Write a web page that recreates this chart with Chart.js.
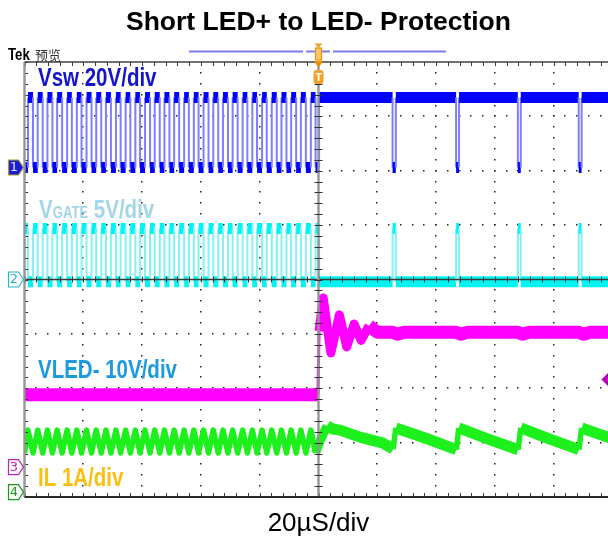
<!DOCTYPE html>
<html lang="en">
<head>
<meta charset="utf-8">
<title>Short LED+ to LED- Protection</title>
<script src="https://cdn.jsdelivr.net/npm/chart.js@4.4.1/dist/chart.umd.min.js"></script>
<style>
html,body{margin:0;padding:0;background:#fff;width:608px;height:539px;overflow:hidden}
#wrap{position:absolute;left:0;top:0;width:614px;height:539px}
</style>
</head>
<body>
<div id="wrap"><canvas id="scope"></canvas></div>
<script>
// ---------------- data (time in µs, 20 µs/div, trigger at t = 0) ----------------
const timeRange = [-100, 100];

// switch-node edges (µs)
const vswRise = [-98.8, -95.5, -92.2, -88.9, -85.5, -82.2, -78.9, -75.6, -72.3, -68.9,
                 -65.6, -62.3, -59.0, -55.7, -52.4, -49.1, -45.7, -42.4, -39.1, -35.8,
                 -32.5, -29.2, -25.8, -22.5, -19.2, -15.9, -12.6, -9.3, -6.0, -2.6];
const vswFall = [-97.1, -93.8, -90.5, -87.2, -83.9, -80.6, -77.2, -73.9, -70.6, -67.3,
                 -64.0, -60.7, -57.3, -54.0, -50.7, -47.4, -44.1, -40.8, -37.4, -34.1,
                 -30.8, -27.5, -24.2, -20.9, -17.6, -14.2, -10.9, -7.6, -4.3, -1.0];
const vswFinalRise = [0.2];
// short switching pulses after the fault (µs)
const dipStart = [25.2, 46.8, 67.8, 88.5];
const dipEnd   = [26.3, 47.8, 68.8, 89.5];

const vswLevels  = [0, 25.7];    // V: low, high
const gateLevels = [-0.2, 4.7];  // V: low, high
const ilRipple   = [0.72, 1.14]; // A: valley, peak before the fault

// inductor current after the fault
const ilPostT = [0.6, 2.9, 4.8, 7.3, 14.1, 22.0, 25.4, 26.3, 36.5, 46.9, 47.7, 57.5, 67.9, 68.8, 78.5, 88.6, 89.5, 100];
const ilPostA = [0.95, 1.22, 1.16, 1.14, 1.01, 0.90, 0.79, 1.18, 0.99, 0.78, 1.18, 0.98, 0.78, 1.18, 0.98, 0.78, 1.18, 0.98];

// LED- voltage
const vledT = [-100, -0.2, 0.2, 1.6, 4.2, 7.1, 9.6, 12.1, 14.5, 17.2, 20.0, 25.2, 26.8, 29.2,
               46.8, 48.4, 50.8, 67.8, 69.4, 71.8, 88.5, 90.1, 92.5, 100];
const vledV = [13.3, 13.3, 25.0, 31.1, 21.0, 28.0, 22.1, 26.3, 23.3, 26.0, 24.8, 24.8, 24.45, 24.8,
               24.8, 24.45, 24.8, 24.8, 24.45, 24.8, 24.8, 24.45, 24.8, 24.8];

// ---------------- channel display settings (scale, ground position in divisions) ----------------
const channels = {
  vsw:  {perDiv: 20, ground: 6.06},
  gate: {perDiv: 5,  ground: 4.0},
  vled: {perDiv: 10, ground: 0.55},
  il:   {perDiv: 1,  ground: 0.09}
};
const toDiv = (v, ch) => v / ch.perDiv + ch.ground;

function squarePoints(events, startLevel, ch) {
  const ev = events.slice().sort((a, b) => a.t - b.t);
  const pts = [{x: timeRange[0], y: toDiv(startLevel, ch)}];
  let cur = startLevel;
  ev.forEach(e => {
    pts.push({x: e.t, y: toDiv(cur, ch)});
    pts.push({x: e.t, y: toDiv(e.l, ch)});
    cur = e.l;
  });
  pts.push({x: timeRange[1], y: toDiv(cur, ch)});
  return pts;
}

const [vLo, vHi] = vswLevels;
const vswPts = squarePoints([
  ...vswRise.map(t => ({t, l: vHi})),
  ...vswFall.map(t => ({t, l: vLo})),
  ...vswFinalRise.map(t => ({t, l: vHi})),
  ...dipStart.map(t => ({t, l: vLo})),
  ...dipEnd.map(t => ({t, l: vHi}))
], vLo, channels.vsw);

const [gLo, gHi] = gateLevels;
const gatePts = squarePoints([
  ...vswRise.map(t => ({t, l: gLo})),
  ...vswFall.map(t => ({t, l: gHi})),
  ...vswFinalRise.map(t => ({t, l: gLo})),
  ...dipStart.map(t => ({t, l: gHi})),
  ...dipEnd.map(t => ({t, l: gLo}))
], gHi, channels.gate);

const ilPts = [{x: timeRange[0], y: toDiv(ilRipple[0], channels.il)}];
vswRise.forEach((t, i) => {
  ilPts.push({x: t, y: toDiv(ilRipple[1], channels.il)});
  ilPts.push({x: vswFall[i], y: toDiv(ilRipple[0], channels.il)});
});
ilPostT.forEach((t, i) => ilPts.push({x: t, y: toDiv(ilPostA[i], channels.il)}));

const vledPts = vledT.map((t, i) => ({x: t, y: toDiv(vledV[i], channels.vled)}));

// ---------------- styles ----------------
const FONT = '"Liberation Sans", Arial, Helvetica, sans-serif';
const isVert = c => Math.abs(c.p1.x - c.p0.x) < 0.01;
const slope = c => { const dx = Math.abs(c.p1.x - c.p0.x); return dx < 0.01 ? 1e9 : Math.abs(c.p1.y - c.p0.y) / dx; };
const bySlope = steps => c => { const s = slope(c); for (const [lim, w] of steps) if (s < lim) return w; return steps[steps.length - 1][1]; };
const clipSides = {left: 0, right: 0, top: 20, bottom: 20};

const base = {pointRadius: 0, pointHoverRadius: 0, tension: 0, fill: false, clip: clipSides, spanGaps: false};

// ---------------- graticule & annotations ----------------
const graticule = {
  id: 'graticule',
  beforeDatasetsDraw(chart) {
    const {ctx, scales: {x, y}} = chart;
    ctx.save();
    ctx.fillStyle = '#222';
    for (let i = 1; i < 10; i++) {
      if (i === 5) continue;
      const X = Math.round(x.getPixelForValue(timeRange[0] + i * 20));
      for (let j = 1; j < 40; j++) {
        const Y = Math.round(y.getPixelForValue(j * 0.2));
        ctx.fillRect(X - 1, Y - 1, 1.5, 1.5);
      }
    }
    for (let j = 1; j < 8; j++) {
      if (j === 4) continue;
      const Y = Math.round(y.getPixelForValue(j));
      for (let i = 1; i < 50; i++) {
        const X = Math.round(x.getPixelForValue(timeRange[0] + i * 4));
        ctx.fillRect(X - 1, Y - 1, 1.5, 1.5);
      }
    }
    ctx.restore();
  },
  afterDatasetsDraw(chart) {
    const {ctx, chartArea: a, scales: {x, y}} = chart;
    const X0 = x.getPixelForValue(0);
    const Yc = y.getPixelForValue(4);
    ctx.save();
    // center horizontal axis
    ctx.strokeStyle = '#3a3a3a'; ctx.lineWidth = 1.6;
    ctx.beginPath(); ctx.moveTo(a.left, Yc); ctx.lineTo(a.right, Yc); ctx.stroke();
    ctx.lineWidth = 1;
    for (let i = 0; i <= 50; i++) {
      const X = Math.round(x.getPixelForValue(timeRange[0] + i * 4)) + 0.5;
      ctx.beginPath(); ctx.moveTo(X, Yc - 3); ctx.lineTo(X, Yc + 3); ctx.stroke();
      ctx.beginPath(); ctx.moveTo(X, a.top); ctx.lineTo(X, a.top + 4); ctx.stroke();
      ctx.beginPath(); ctx.moveTo(X, a.bottom); ctx.lineTo(X, a.bottom - 4); ctx.stroke();
    }
    // trigger line and left border
    ctx.strokeStyle = '#959595'; ctx.lineWidth = 2.4;
    ctx.beginPath(); ctx.moveTo(X0, a.top); ctx.lineTo(X0, a.bottom); ctx.stroke();
    ctx.beginPath(); ctx.moveTo(a.left, a.top); ctx.lineTo(a.left, a.bottom); ctx.stroke();
    ctx.strokeStyle = '#333'; ctx.lineWidth = 1;
    for (let j = 0; j <= 40; j++) {
      const Y = Math.round(y.getPixelForValue(j * 0.2)) + 0.5;
      ctx.beginPath(); ctx.moveTo(X0 - 4, Y); ctx.lineTo(X0 + 4, Y); ctx.stroke();
      ctx.beginPath(); ctx.moveTo(a.left + 1, Y); ctx.lineTo(a.left + 3.5, Y); ctx.stroke();
    }
    // top ruler and bottom border
    ctx.strokeStyle = '#404040'; ctx.lineWidth = 1.5;
    ctx.beginPath(); ctx.moveTo(a.left, a.top); ctx.lineTo(a.right, a.top); ctx.stroke();
    ctx.strokeStyle = '#2a2a2a'; ctx.lineWidth = 2;
    ctx.beginPath(); ctx.moveTo(a.left, a.bottom); ctx.lineTo(a.right, a.bottom); ctx.stroke();

    // record-length bar above the graticule
    ctx.strokeStyle = '#7b7bf2'; ctx.lineWidth = 2;
    [[189, 303], [306, 330], [333, 446]].forEach(([s, e]) => {
      ctx.beginPath(); ctx.moveTo(s, 51.5); ctx.lineTo(e, 51.5); ctx.stroke();
    });
    // trigger position markers
    ctx.fillStyle = '#f0a020';
    ctx.beginPath(); ctx.moveTo(X0 - 4, 43.5); ctx.lineTo(X0 + 4, 43.5); ctx.lineTo(X0, 48); ctx.closePath(); ctx.fill();
    ctx.fillStyle = '#f9c46a'; ctx.strokeStyle = '#e8940e'; ctx.lineWidth = 1.2;
    ctx.fillRect(X0 - 3, 48, 6, 12); ctx.strokeRect(X0 - 3, 48, 6, 12);
    ctx.fillStyle = '#e8920c';
    ctx.beginPath(); ctx.moveTo(X0 - 4.5, 61); ctx.lineTo(X0 + 4.5, 61); ctx.lineTo(X0, 68); ctx.closePath(); ctx.fill();
    ctx.fillStyle = '#f2a22a';
    ctx.beginPath(); ctx.roundRect(X0 - 5, 70, 10, 14, 3); ctx.fill();
    ctx.fillStyle = '#fff'; ctx.font = 'bold 11px ' + FONT; ctx.textAlign = 'center'; ctx.textBaseline = 'middle';
    ctx.fillText('T', X0, 77.5);

    // ground reference markers
    const marker = (div, num, fill, stroke, tc) => {
      const yc = y.getPixelForValue(div);
      ctx.beginPath();
      ctx.moveTo(8.5, yc - 7.5); ctx.lineTo(18.5, yc - 7.5); ctx.lineTo(23.5, yc);
      ctx.lineTo(18.5, yc + 7.5); ctx.lineTo(8.5, yc + 7.5); ctx.closePath();
      ctx.fillStyle = fill; ctx.fill();
      ctx.strokeStyle = stroke; ctx.lineWidth = 1.2; ctx.stroke();
      ctx.fillStyle = tc; ctx.font = '13px "DejaVu Sans", sans-serif';
      ctx.textAlign = 'center'; ctx.textBaseline = 'middle';
      ctx.fillText(num, 14, yc + 0.5);
    };
    marker(channels.vsw.ground, '1', '#1c1cd8', '#a89a30', '#e0e0ff');
    marker(channels.gate.ground, '2', '#ffffff', '#2ab8c8', '#2ab8c8');
    marker(channels.vled.ground, '3', '#ffffff', '#c020c0', '#c020c0');
    marker(channels.il.ground, '4', '#ffffff', '#1a9a1a', '#1a9a1a');

    // right-side reference marker
    ctx.fillStyle = '#b800b8';
    ctx.beginPath(); ctx.moveTo(601.5, 379.5); ctx.lineTo(608, 373); ctx.lineTo(614, 379.5); ctx.lineTo(608, 386); ctx.closePath(); ctx.fill();

    // header text
    ctx.textAlign = 'left'; ctx.textBaseline = 'alphabetic';
    ctx.save(); ctx.translate(8, 60); ctx.scale(0.78, 1);
    ctx.fillStyle = '#000'; ctx.font = 'bold 17px ' + FONT; ctx.fillText('Tek', 0, 0);
    ctx.restore();
    ctx.fillStyle = '#303030'; ctx.font = '13px "Noto Sans CJK SC", sans-serif';
    ctx.fillText('预览', 35, 60);

    // channel labels
    const label = (x0, y0, color, parts) => {
      let cx = x0;
      parts.forEach(([t, s]) => {
        ctx.save();
        ctx.font = 'bold ' + s + 'px ' + FONT;
        ctx.fillStyle = color;
        ctx.translate(cx, y0); ctx.scale(0.82, 1);
        ctx.fillText(t, 0, 0);
        cx += ctx.measureText(t).width * 0.82;
        ctx.restore();
      });
    };
    label(38, 86, '#1414c8', [['Vsw 20V/div', 25]]);
    label(39, 218, '#a3d6e6', [['V', 25], ['GATE', 16], [' 5V/div', 25]]);
    label(38, 378, '#1c9ade', [['VLED- 10V/div', 25]]);
    label(38, 485.5, '#fbbf14', [['IL 1A/div', 25]]);
    ctx.restore();
  }
};

new Chart(document.getElementById('scope'), {
  type: 'line',
  data: {
    datasets: [
      Object.assign({}, base, {
        label: 'Vsw', data: vswPts, borderColor: '#0000ff', borderWidth: 11,
        borderCapStyle: 'butt', borderJoinStyle: 'miter',
        segment: {
          borderWidth: c => isVert(c) ? 2 : 11,
          borderColor: c => isVert(c) ? '#7e7eff' : '#0000ff'
        }
      }),
      Object.assign({}, base, {
        label: 'VGATE', data: gatePts, borderColor: '#00f4f4', borderWidth: 11,
        borderCapStyle: 'butt', borderJoinStyle: 'miter',
        segment: {
          borderWidth: c => isVert(c) ? 2 : 11,
          borderColor: c => isVert(c) ? '#84f2f2' : '#00f4f4'
        }
      }),
      Object.assign({}, base, {
        label: 'VLED-', data: vledPts, borderColor: '#ff00ff', borderWidth: 13,
        borderCapStyle: 'butt', borderJoinStyle: 'round',
        segment: {borderWidth: bySlope([[1.5, 13], [14, 9], [1e12, 3]])}
      }),
      Object.assign({}, base, {
        label: 'IL', data: ilPts, borderColor: '#1ef01e', borderWidth: 11,
        borderCapStyle: 'butt', borderJoinStyle: 'round',
        segment: {borderWidth: bySlope([[1.5, 11], [3.5, 9], [1e12, 5.5]])}
      })
    ]
  },
  options: {
    responsive: true,
    maintainAspectRatio: false,
    animation: false,
    devicePixelRatio: 1,
    events: [],
    layout: {padding: {left: 24.5, right: 1.5, top: 0, bottom: 0}},
    scales: {
      x: {
        type: 'linear', min: timeRange[0], max: timeRange[1], display: true,
        grid: {display: false, drawTicks: false}, border: {display: false},
        ticks: {display: false},
        title: {display: true, text: '20µS/div', color: '#000', font: {family: FONT, size: 26}, padding: {top: 10.8, bottom: 0}}
      },
      y: {type: 'linear', min: 0, max: 8, display: false}
    },
    plugins: {
      legend: {display: false},
      tooltip: {enabled: false},
      title: {
        display: true, text: 'Short LED+ to LED- Protection', fullSize: false, color: '#000',
        font: {family: FONT, size: 26.5, weight: 'bold'}, padding: {top: 7.1, bottom: 23.1}
      }
    }
  },
  plugins: [graticule]
});
</script>
</body>
</html>
